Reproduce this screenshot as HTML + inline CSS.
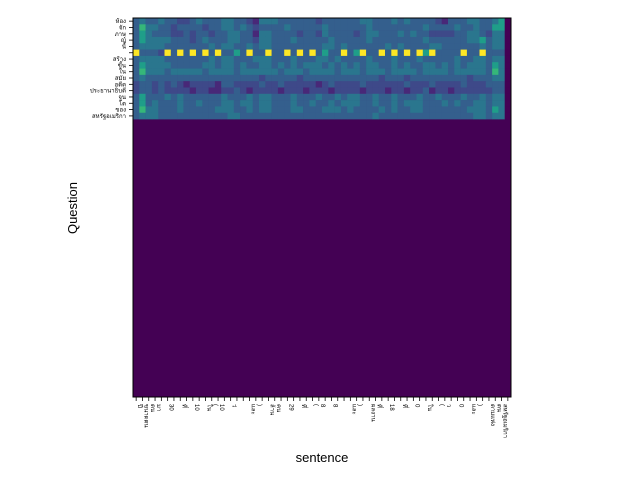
<!DOCTYPE html>
<html><head><meta charset="utf-8"><style>
body{margin:0;background:#fff;width:640px;height:480px;overflow:hidden}
svg text{font-family:"Liberation Sans","Noto Sans CJK SC",sans-serif}
</style></head><body>
<svg id="chart" width="640" height="480"></svg>
<script>
const rowLabels=["ห้อง","จัก","ภาษ","ญ์","นี้","","สร้าง","ขึ้น","ใน","สมัย","อดีต","ประธานาธิบดี","จูน","โด","ของ","สหรัฐอเมริกา"];
const colLabels=["ปี","ขนาดตน","ตน","มา","","30","","ที่","","10","","ใน","(","10","","ว่","","","และ",")","","ล้าน","คน","","29","","ที่","","(","8","","8","","","และ",")","","ผลงาน","ที่","","18","","ที่","","0","","ใน","","(","ว","","0","","และ",")","","ตามแห่ง","ตน","สหรัฐอเมริกา",""];
const rowStrings=[
"343343322343334433214443333332333333443334343333213334433450",
"364433233332334434323333433333433333343333333343333433433550",
"354333223233233443314433332332433332344333434332222334432440",
"354444333234333443324433343333343333343333333343333334453440",
"344443333333434433434433333333443433333343433334433333343440",
"433323333333333353333333333333533335333333333353333353333330",
"344443333333434433344433343334434333343334333433333433443440",
"354444333334434434334434343444343434344334343344343434443540",
"364443444443444434444443444344443444344434444344443444443640",
"343333333333333333332333332333333333333233323333333332333440",
"233232321222213322223223222221232222322222232223222232223330",
"233232222122112232122221222122212222122212212231221222222330",
"353334343333334333434433343334334344334334333433433343343440",
"353433343343334434434433343343343444334334344433343433443440",
"364433343333344433434433344333444343333434334433333334443540",
"344433333333333443333333333333333333334333333333333333443440"];
const yellowRow=5;
const yellowCols=[0,5,7,9,11,13,18,21,24,26,28,33,36,39,41,43,45,47,52,55];
const nRows=60,nCols=60;
const viridis=["#440154","#482878","#3e4989","#345f8d","#2a768e","#1f9e89","#35b779","#6ece58","#b5de2b","#fde725"];
const X0=133,Y0=18,W=378,H=379;
const cw=W/nCols,ch=H/nRows;
const xS=c=>X0+c*cw, yS=r=>Y0+r*ch;
const NS="http://www.w3.org/2000/svg";
const svg=document.getElementById('chart');
function mk(t,a){const e=document.createElementNS(NS,t);for(const k in a)e.setAttribute(k,a[k]);svg.appendChild(e);return e;}
const bg=mk('rect',{x:X0,y:Y0,width:W,height:H,fill:viridis[0]});


rowStrings.forEach((s,r)=>{
  for(let c=0;c<nCols;c++){
    let v=+s[c]||0;
    if(r===yellowRow&&yellowCols.includes(c))v=9;
    const e=mk('rect',{x:xS(c),y:yS(r),width:cw+0.3,height:ch+0.3,fill:viridis[v]});
    
    
  }
});
const fr=mk('rect',{x:X0,y:Y0,width:W,height:H,fill:'none',stroke:'#000','stroke-width':1});


rowLabels.forEach((l,r)=>{
  const y=yS(r)+ch/2;
  const t=mk('line',{x1:X0-4,x2:X0,y1:y,y2:y,stroke:'#000','stroke-width':0.8});
  
  
  const tx=mk('text',{x:X0-7,y:y+2,'font-size':6,'text-anchor':'end'});
  tx.textContent=l;
  
  
});
colLabels.forEach((l,c)=>{
  const x=xS(c)+cw/2;
  const t=mk('line',{x1:x,x2:x,y1:Y0+H,y2:Y0+H+4,stroke:'#000','stroke-width':0.8});
  
  
  if(l){
    const tx=mk('text',{x:x+2,y:Y0+H+7,'font-size':6,transform:`rotate(90 ${x+2} ${Y0+H+7})`});
    tx.textContent=l;
    
    
  }
});
const xt=mk('text',{x:322,y:462,'font-size':13,'text-anchor':'middle'});
xt.textContent='sentence';


const yt=mk('text',{x:77,y:208,'font-size':13,'text-anchor':'middle',transform:'rotate(-90 77 208)'});
yt.textContent='Question';


</script>
</body></html>
